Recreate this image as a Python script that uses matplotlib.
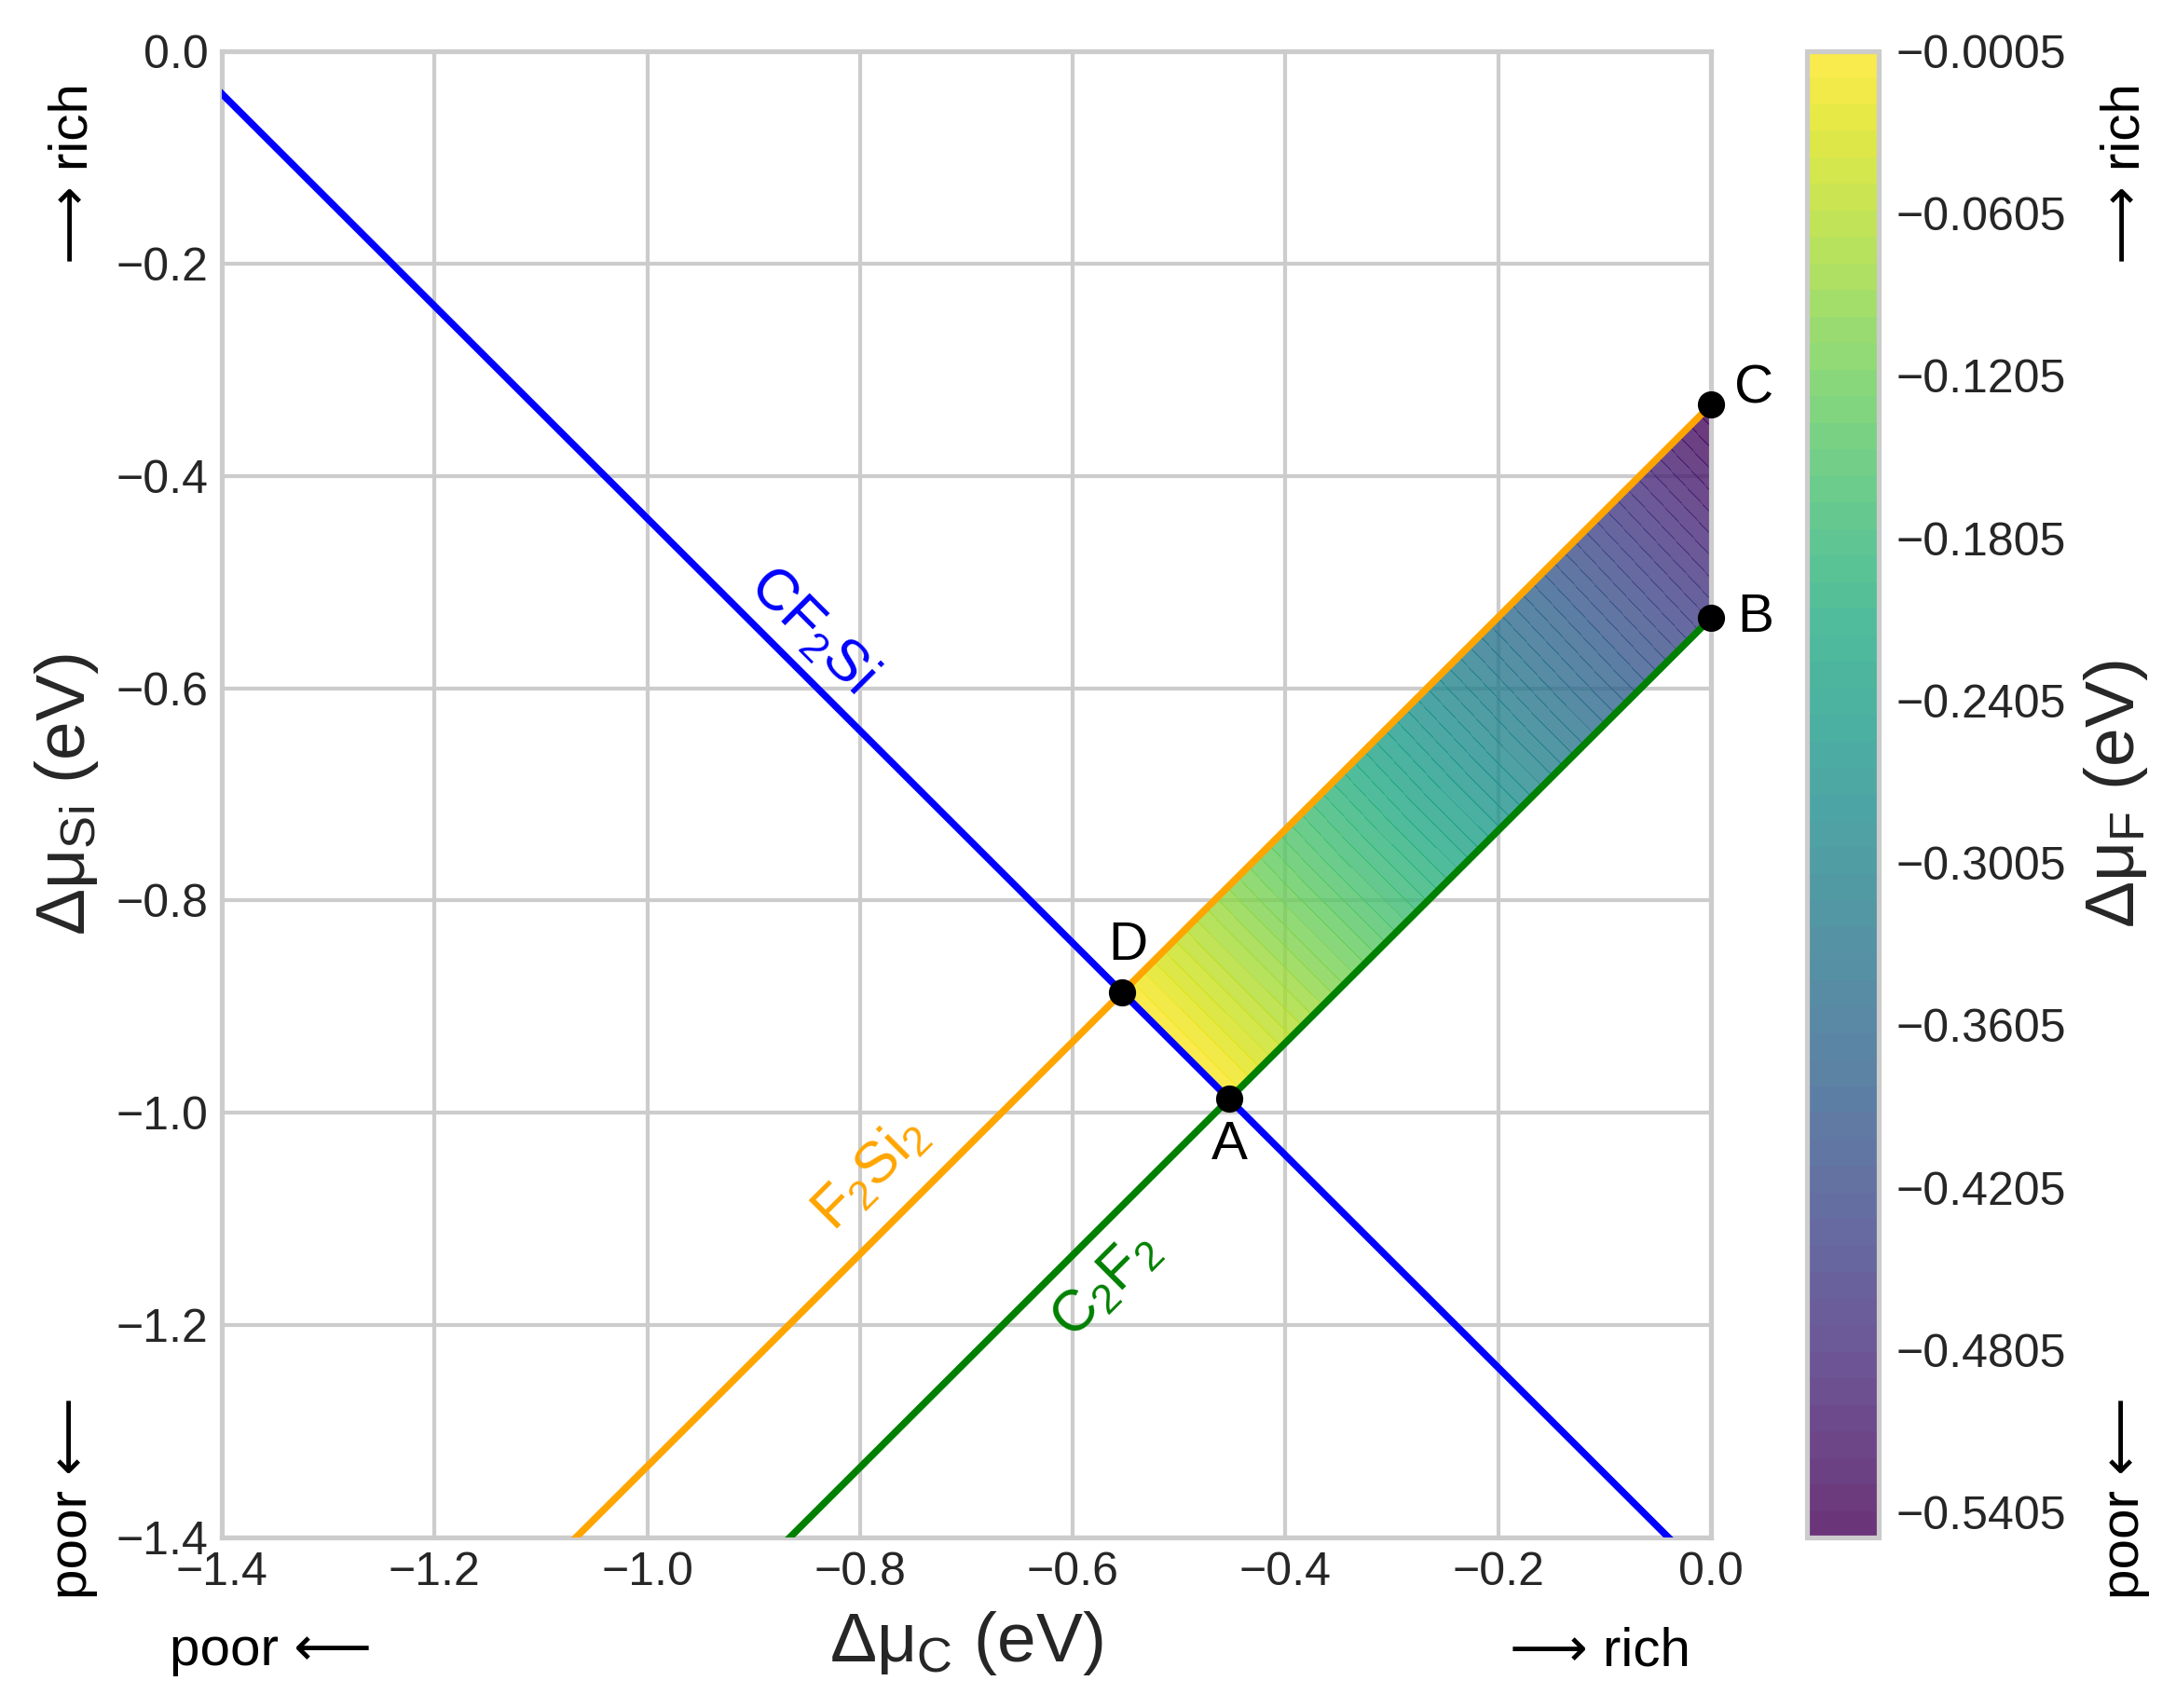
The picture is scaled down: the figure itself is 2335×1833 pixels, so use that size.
import numpy as np
import matplotlib
matplotlib.use("Agg")
import matplotlib.pyplot as plt
import matplotlib.tri as mtri

plt.rcParams['font.family'] = ['Liberation Sans', 'DejaVu Sans']
plt.rcParams['mathtext.fontset'] = 'custom'
plt.rcParams['mathtext.rm'] = 'Liberation Sans'
plt.rcParams['mathtext.it'] = 'Liberation Sans'
plt.rcParams['mathtext.default'] = 'regular'

# ---------------- data ----------------
# boundary lines (endpoints, in eV)
line_names = ['CF$_2$Si', 'F$_2$Si$_2$', 'C$_2$F$_2$']
line_colors = ['blue', 'orange', 'green']
line_x = [[-1.4, 0.0], [-1.067, 0.0], [-0.866, 0.0]]
line_y = [[-0.04, -1.44], [-1.4, -0.333], [-1.4, -0.534]]

# stability region vertices
vert_names = ['A', 'B', 'C', 'D']
vert_x = [-0.453, 0.0, 0.0, -0.5535]
vert_y = [-0.987, -0.534, -0.333, -0.8865]
vert_muF = [-0.0005, -0.4532, -0.5498, -0.0005]

cbar_ticks = [-0.0005, -0.0605, -0.1205, -0.1805, -0.2405, -0.3005,
              -0.3605, -0.4205, -0.4805, -0.5405]
xticks = [-1.4, -1.2, -1.0, -0.8, -0.6, -0.4, -0.2, 0.0]
yticks = [-1.4, -1.2, -1.0, -0.8, -0.6, -0.4, -0.2, 0.0]

# ---------------- figure ----------------
W, H = 2335, 1833
dpi = 300
fig = plt.figure(figsize=(W / dpi, H / dpi), dpi=dpi)
ax = fig.add_axes([238 / W, 1 - 1650 / H, (1836 - 238) / W, (1650 - 55) / H])
cax = fig.add_axes([1939 / W, 1 - 1650 / H, (2016 - 1939) / W, (1650 - 55) / H])

grid_c = '#cccccc'
txt_c = '#262626'
ax.set_axisbelow(True)
ax.grid(True, color=grid_c, lw=1.0)
for s in ax.spines.values():
    s.set_color(grid_c)
    s.set_linewidth(1.25)
ax.tick_params(length=0, labelsize=12, labelcolor=txt_c, pad=3.5)

# filled region via triangulation of polygon
tri = mtri.Triangulation(vert_x, vert_y, triangles=[[0, 1, 3], [1, 2, 3]])
vmin, vmax = min(vert_muF), max(vert_muF)
levels = np.linspace(vmin, vmax, 57)
cf = ax.tricontourf(tri, vert_muF, levels=levels, cmap='viridis', alpha=0.8, zorder=2)

for name, c, xs, ys in zip(line_names, line_colors, line_x, line_y):
    ax.plot(xs, ys, color=c, lw=1.8, zorder=3)

# line labels
ax.text(-0.845, -0.545, line_names[0], color='blue', fontsize=15, rotation=-45,
        ha='center', va='center', rotation_mode='anchor', zorder=4)
ax.text(-0.79, -1.057, line_names[1], color='orange', fontsize=15, rotation=45,
        ha='center', va='center', rotation_mode='anchor', zorder=4)
ax.text(-0.569, -1.162, line_names[2], color='green', fontsize=15, rotation=45,
        ha='center', va='center', rotation_mode='anchor', zorder=4)

ax.plot(vert_x, vert_y, 'o', color='black', ms=6, zorder=5, clip_on=False)
offsets = {'A': (0, -12, 'center', 'center'), 'B': (11.5, 0, 'center', 'center'),
           'C': (11, 4, 'center', 'center'), 'D': (1.5, 12, 'center', 'center')}
for n, x, y in zip(vert_names, vert_x, vert_y):
    dx, dy, ha, va = offsets[n]
    ax.annotate(n, (x, y), xytext=(dx, dy), textcoords='offset points',
                ha=ha, va=va, fontsize=14, color='black', zorder=6)

ax.set_xlim(-1.4, 0.0)
ax.set_ylim(-1.4, 0.0)
ax.set_xticks(xticks)
ax.set_yticks(yticks)
ax.set_xlabel(r'$\Delta\mu_{\mathrm{C}}$ (eV)', fontsize=18, color=txt_c, labelpad=4)
ax.set_ylabel(r'$\Delta\mu_{\mathrm{Si}}$ (eV)', fontsize=18, color=txt_c, labelpad=4)

cb = fig.colorbar(cf, cax=cax, ticks=cbar_ticks)
cb.outline.set_edgecolor(grid_c)
cb.outline.set_linewidth(1.25)
cax.tick_params(length=0, labelsize=12, labelcolor=txt_c, pad=4.5)
cax.set_yticklabels([f'{t:.4f}'.replace('-', '\u2212') for t in cbar_ticks])
cb.set_label(r'$\Delta\mu_{\mathrm{F}}$ (eV)', fontsize=18, color=txt_c, labelpad=4)

# rich / poor annotations
fs_rp = 14
fig.text(290 / W, 1 - 1772 / H, 'poor \u27f5', fontsize=fs_rp, ha='center', va='center')
fig.text(1717 / W, 1 - 1772 / H, '\u27f6 rich', fontsize=fs_rp, ha='center', va='center')
fig.text(78 / W, 1 - 186 / H, '\u27f6 rich', fontsize=fs_rp, ha='center', va='center', rotation=90)
fig.text(78 / W, 1 - 1608 / H, 'poor \u27f5', fontsize=fs_rp, ha='center', va='center', rotation=90)
fig.text(2280 / W, 1 - 186 / H, '\u27f6 rich', fontsize=fs_rp, ha='center', va='center', rotation=90)
fig.text(2280 / W, 1 - 1608 / H, 'poor \u27f5', fontsize=fs_rp, ha='center', va='center', rotation=90)

fig.savefig('out.png', dpi=dpi)
